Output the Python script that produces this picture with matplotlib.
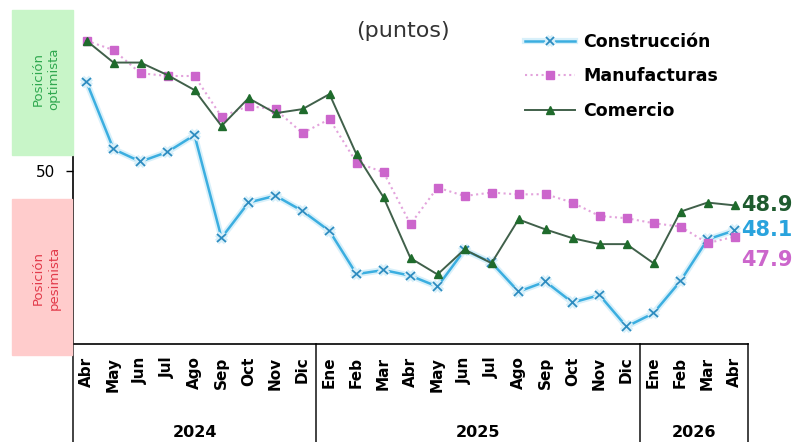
import matplotlib
matplotlib.use("Agg")
import matplotlib.pyplot as plt
import matplotlib.patheffects as pe
from matplotlib.patches import Rectangle

# Data
months = ["Abr", "May", "Jun", "Jul", "Ago", "Sep", "Oct", "Nov", "Dic",
          "Ene", "Feb", "Mar", "Abr", "May", "Jun", "Jul", "Ago", "Sep", "Oct", "Nov", "Dic",
          "Ene", "Feb", "Mar", "Abr"]
years = ["2024", "2025", "2026"]
year_spans = [(0, 8), (9, 20), (21, 24)]

construccion = [52.85, 50.70, 50.30, 50.61, 51.15, 47.86, 48.99, 49.21, 48.72,
                48.08, 46.70, 46.83, 46.65, 46.30, 47.47, 47.07, 46.14, 46.46, 45.79, 46.03, 45.02,
                45.45, 46.48, 47.81, 48.1]
manufacturas = [54.17, 53.87, 53.13, 53.04, 53.04, 51.74, 52.08, 51.97, 51.21,
                51.66, 50.27, 49.96, 48.30, 49.47, 49.20, 49.31, 49.25, 49.26, 48.99, 48.56, 48.49,
                48.33, 48.22, 47.69, 47.9]
comercio = [54.17, 53.47, 53.47, 53.07, 52.59, 51.44, 52.33, 51.85, 51.98,
            52.46, 50.53, 49.16, 47.21, 46.69, 47.49, 47.05, 48.45, 48.13, 47.85, 47.66, 47.66,
            47.05, 48.70, 48.99, 48.9]

C_CONS = "#3BAEE0"
C_MANU = "#CC66CC"
C_COME = "#1F6B2C"


# Function to draw the three series
def plot_series(ax, x):
    ax.plot(x, construccion, color=C_CONS, lw=1.8, marker="x", ms=6, mew=1.3,
            mec="#2E8CC0", label="Construcción",
            path_effects=[pe.Stroke(linewidth=4.5, foreground="#D8F0FA"), pe.Normal()])
    ax.plot(x, manufacturas, color="#E3A3DC", lw=1.5, ls=":", marker="s", ms=5.5,
            mfc=C_MANU, mec=C_MANU, label="Manufacturas")
    ax.plot(x, comercio, color="#40604A", lw=1.4, marker="^", ms=6,
            mfc=C_COME, mec=C_COME, label="Comercio")


# Function to draw the month / year table under the axis
def draw_axis_table(ax):
    ax.set_xticks(range(len(months)))
    ax.set_xticklabels(months, rotation=90, fontsize=11, fontweight="bold", va="top")
    ax.tick_params(axis="x", length=0, pad=9)
    tr = ax.get_xaxis_transform()
    for sep in [-0.5, 8.5, 20.5, 24.5]:
        ax.plot([sep, sep], [0, -0.35], color="#222222", lw=1.2, transform=tr, clip_on=False)
    for name, (a, b) in zip(years, year_spans):
        ax.text((a + b) / 2, -0.265, name, transform=tr, ha="center", va="center",
                fontsize=11.5, fontweight="bold")


def main():
    fig = plt.figure(figsize=(7.97, 4.42), dpi=100)
    W, H = 797, 442
    ax = fig.add_axes([73 / W, 1 - 344 / H, (748 - 73) / W, (344 - 10) / H])

    x = list(range(len(months)))
    plot_series(ax, x)

    ax.set_xlim(-0.5, 24.5)
    ax.set_ylim(44.464, 55.152)
    ax.set_yticks([50])
    ax.set_yticklabels(["50"], fontsize=11)
    ax.tick_params(axis="y", length=5, width=1, pad=8)
    ax.spines["top"].set_visible(False)
    ax.spines["right"].set_visible(False)
    ax.spines["left"].set_bounds(44.464, 50.51)
    ax.spines["left"].set_linewidth(1.2)
    ax.spines["bottom"].set_linewidth(1.2)

    draw_axis_table(ax)

    # Title
    fig.text(403 / W, 1 - 31 / H, "(puntos)", ha="center", va="center",
             fontsize=16, color="#333333")

    # Legend
    ax.legend(loc="upper left", bbox_to_anchor=(525 / W, 1 - 33 / H),
              bbox_transform=fig.transFigure, frameon=False, borderpad=0,
              borderaxespad=0, handlelength=2.9, handletextpad=0.45,
              labelspacing=0.95, prop={"size": 12.5, "weight": "bold"})

    # End labels
    ax.annotate(f"{comercio[-1]:.1f}", xy=(24, comercio[-1]), xytext=(4.5, 0),
                textcoords="offset points", ha="left", va="center",
                fontsize=15, fontweight="bold", color="#1E5B2E", annotation_clip=False)
    ax.annotate(f"{construccion[-1]:.1f}", xy=(24, construccion[-1]), xytext=(4.5, 0),
                textcoords="offset points", ha="left", va="center",
                fontsize=15, fontweight="bold", color="#29A3DD", annotation_clip=False)
    ax.annotate(f"{manufacturas[-1]:.1f}", xy=(24, manufacturas[-1]), xytext=(5, -17),
                textcoords="offset points", ha="left", va="center",
                fontsize=15, fontweight="bold", color=C_MANU, annotation_clip=False)

    # Side boxes
    fig.patches.append(Rectangle((12 / W, 1 - 155 / H), 61 / W, 145 / H,
                                 transform=fig.transFigure, color="#C8F5C8", zorder=0))
    fig.patches.append(Rectangle((12 / W, 1 - 355 / H), 60 / W, 156 / H,
                                 transform=fig.transFigure, color="#FFCCCC", zorder=0))
    fig.text(46 / W, 1 - 79 / H, "Posición\noptimista", rotation=90, ha="center",
             va="center", fontsize=9.5, color="#2FA84F", linespacing=1.3)
    fig.text(46 / W, 1 - 278 / H, "Posición\npesimista", rotation=90, ha="center",
             va="center", fontsize=9.5, color="#E23A4A", linespacing=1.3)

    fig.savefig("out.png", dpi=100)


if __name__ == "__main__":
    main()
